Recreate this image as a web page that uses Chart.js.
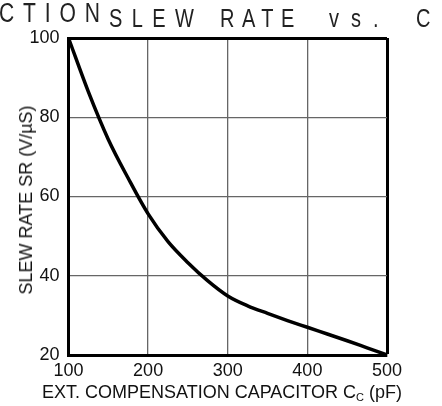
<!DOCTYPE html>
<html>
<head>
<meta charset="utf-8">
<script src="https://cdn.jsdelivr.net/npm/chart.js@4"></script>
<style>
  html, body { margin: 0; padding: 0; background: #fff; }
  #wrap { position: relative; width: 442px; height: 406px; overflow: hidden; font-family: "Liberation Sans", Arial, sans-serif; }
  canvas { position: absolute; left: 0; top: 0; }
  .t { position: absolute; white-space: pre; line-height: 1; color: #222; transform-origin: 0 0; }
  .ax { position: absolute; white-space: pre; font-size: 18px; line-height: 1; color: #111; }
  sub { font-size: 11px; vertical-align: -3px; line-height: 0; }
</style>
</head>
<body>
<div id="wrap">
  <canvas id="c" width="442" height="406"></canvas>
  <div class="t" style="left:-1px; top:-0.5px; font-size:27px; letter-spacing:11.4px; transform:scaleX(0.78);">CTION</div>
  <div class="t" style="left:109px; top:5.8px; font-size:25px; letter-spacing:11.8px; transform:scaleX(0.8);">SLEW</div>
  <div class="t" style="left:220px; top:5.8px; font-size:25px; letter-spacing:9.4px; transform:scaleX(0.8);">RATE</div>
  <div class="t" style="left:329px; top:5.8px; font-size:25px; letter-spacing:15px; transform:scaleX(0.8);">vs.</div>
  <div class="t" style="left:416px; top:5.8px; font-size:25px; transform:scaleX(0.8);">C</div>
  <div class="ax" id="ytitle" style="left:25.5px; top:200px; transform:translate(-50%,-50%) rotate(-90deg);">SLEW RATE SR (V/µS)</div>
  <div class="ax" id="xtitle" style="left:42px; top:383px;">EXT. COMPENSATION CAPACITOR C<sub>C</sub> (pF)</div>
</div>
<script>
const capacitance = [100, 125, 150, 175, 200, 225, 250, 275, 300, 325, 350, 375, 400, 425, 450, 475, 500];
const slewRate    = [100, 86.4, 74.4, 64.6, 55.6, 48.6, 43.3, 38.7, 34.9, 32.4, 30.5, 28.7, 27.0, 25.3, 23.6, 21.8, 20];
const xTicks = [100, 200, 300, 400, 500];
const yTicks = [20, 40, 60, 80, 100];

const points = capacitance.map((x, i) => ({ x: x, y: slewRate[i] }));
const FONT = { family: "'Liberation Sans', Arial, sans-serif", size: 18 };

new Chart(document.getElementById('c'), {
  type: 'line',
  data: {
    datasets: [{
      data: points,
      borderColor: '#000',
      borderWidth: 3.5,
      pointRadius: 0,
      cubicInterpolationMode: 'monotone',
      fill: false,
      clip: 3
    }]
  },
  options: {
    responsive: false,
    animation: false,
    devicePixelRatio: 1,
    layout: { padding: { top: 38, right: 55, left: 0, bottom: 0 } },
    plugins: { legend: { display: false }, tooltip: { enabled: false }, title: { display: false } },
    scales: {
      x: {
        type: 'linear',
        min: xTicks[0],
        max: xTicks[xTicks.length - 1],
        afterBuildTicks: (s) => { s.ticks = xTicks.map(v => ({ value: v })); },
        afterFit: (s) => { s.height = 51; },
        ticks: { color: '#111', font: FONT, padding: 5, maxRotation: 0 },
        grid: {
          drawTicks: false,
          color: (ctx) => (ctx.tick && ctx.tick.value === 500) ? '#000' : '#666',
          lineWidth: (ctx) => (ctx.tick && ctx.tick.value === 500) ? 3 : 1.3
        },
        border: { display: true, color: '#000', width: 3 }
      },
      y: {
        type: 'linear',
        min: yTicks[0],
        max: yTicks[yTicks.length - 1],
        afterBuildTicks: (s) => { s.ticks = yTicks.map(v => ({ value: v })); },
        afterFit: (s) => { s.width = 68.5; },
        ticks: { color: '#111', font: FONT, padding: 9 },
        grid: {
          drawTicks: false,
          color: (ctx) => (ctx.tick && ctx.tick.value === 100) ? '#000' : '#666',
          lineWidth: (ctx) => (ctx.tick && ctx.tick.value === 100) ? 3 : 1.3
        },
        border: { display: true, color: '#000', width: 3 }
      }
    }
  }
});
</script>
</body>
</html>
